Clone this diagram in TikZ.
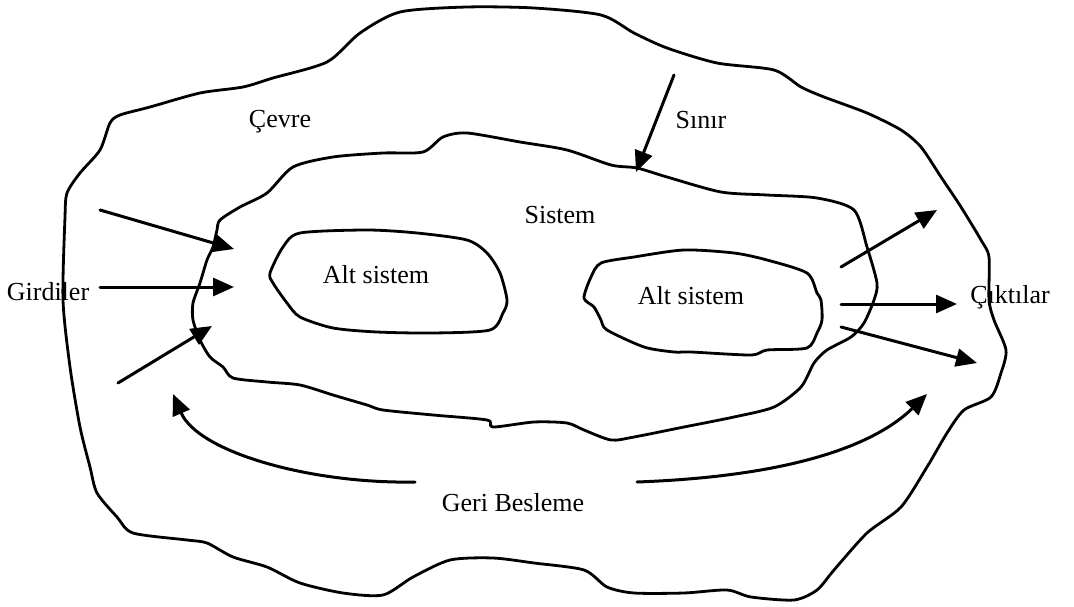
\documentclass[tikz,border=0pt]{standalone}
\usepackage{fontspec}
\setmainfont{Liberation Serif}
\usetikzlibrary{arrows.meta}
\begin{document}
\begin{tikzpicture}[x=1pt,y=-1pt,
  line join=round, line cap=round,
  outline/.style={line width=2.8pt, black},
  arr/.style={line width=3pt, -{Triangle[length=21pt,width=18pt]}},
  lbl/.style={font=\fontsize{26}{31}\selectfont, inner sep=0pt}]
\useasboundingbox (0,0) rectangle (1074,607);
% environment
\draw[outline] plot[smooth cycle, tension=0.45] coordinates {
(120,115) (150,107) (200,93) (243,87) (273,78) (327,62) (360,33) (400,12) (467,7) (534,8) (601,15) (634,33) (667,48) (717,63) (774,70) (801,87) (824,97) (867,113) (901,130) (921,147) (941,177) (961,207) (981,240) (989,257) (989,300) (994,320) (1006,350) (1001,373) (991,397) (964,410) (947,433) (927,467) (901,507) (867,533) (834,570) (817,590) (794,600) (751,597) (727,590) (684,593) (634,593) (607,587) (584,570) (534,563) (493,558) (450,560) (413,577) (383,595) (343,593) (300,583) (267,567) (233,557) (207,543) (187,540) (133,533) (117,517) (97,493) (90,467) (80,427) (70,367) (63,300) (65,217) (67,193) (80,173) (100,150) (110,123)};
% system
\draw[outline] plot[smooth cycle, tension=0.45] coordinates {
(217,230) (220,220) (240,207) (267,193) (293,167) (333,157) (383,153) (423,152) (443,137) (467,133) (520,142) (567,150) (611,165) (637,168) (667,177) (721,192) (767,195) (817,198) (854,210) (867,247) (877,283) (874,300) (864,323) (851,337) (827,350) (814,363) (801,387) (774,407) (734,417) (684,427) (634,437) (611,440) (584,430) (567,423) (534,422) (493,427) (487,420) (433,415) (383,410) (367,405) (333,395) (300,385) (267,382) (233,378) (223,367) (210,357) (200,340) (193,320) (193,303) (200,283) (207,260) (213,247)};
% subsystem 1
\draw[outline] plot[smooth cycle, tension=0.45] coordinates {
(270,273) (283,247) (300,233) (367,230) (417,233) (467,240) (487,253) (500,273) (507,300) (503,313) (490,330) (433,333) (377,332) (333,328) (300,317) (287,303) (273,283)};
% subsystem 2
\draw[outline] plot[smooth cycle, tension=0.45] coordinates {
(584,298) (591,277) (601,263) (634,257) (684,250) (734,253) (767,260) (807,273) (817,293) (821,300) (822,320) (817,333) (807,348) (767,350) (751,355) (691,352) (674,352) (644,347) (607,330) (601,320) (594,307)};
% labels
\node[lbl] (cevre) at (280,122) {Çevre};
\node[lbl] (sinir) at (701,120) {Sınır};
\node[lbl] (sistem) at (560,215) {Sistem};
\node[lbl] (alt1) at (376,275) {Alt sistem};
\node[lbl] (alt2) at (691,296) {Alt sistem};
\node[lbl] (girdi) at (48,292) {Girdiler};
\node[lbl] (cikti) at (1010,297) {Çıktılar};
\node[lbl] (geri) at (513,503) {Geri Besleme};
% arrow end points
\coordinate (i1s) at (100,210); \coordinate (i1e) at (234,249);
\coordinate (i2s) at (100,287); \coordinate (i2e) at (234,287);
\coordinate (i3s) at (118,383); \coordinate (i3e) at (212,326);
\coordinate (ss) at (674,75);   \coordinate (se) at (636,172);
\coordinate (o1s) at (841,267); \coordinate (o1e) at (937,210);
\coordinate (o2s) at (841,304); \coordinate (o2e) at (957,304);
\coordinate (o3s) at (841,327); \coordinate (o3e) at (977,363);
\coordinate (fls) at (415,482); \coordinate (fle) at (173,394);
\coordinate (frs) at (637,482); \coordinate (fre) at (927,394);
\draw[arr] (i1s) -- (i1e);
\draw[arr] (i2s) -- (i2e);
\draw[arr] (i3s) -- (i3e);
\draw[arr] (ss) -- (se);
\draw[arr] (o1s) -- (o1e);
\draw[arr] (o2s) -- (o2e);
\draw[arr] (o3s) -- (o3e);
\draw[arr] (fls) .. controls (310,484) and (198,452) .. (fle);
\draw[arr] (frs) .. controls (800,476) and (878,442) .. (fre);
\end{tikzpicture}
\end{document}
